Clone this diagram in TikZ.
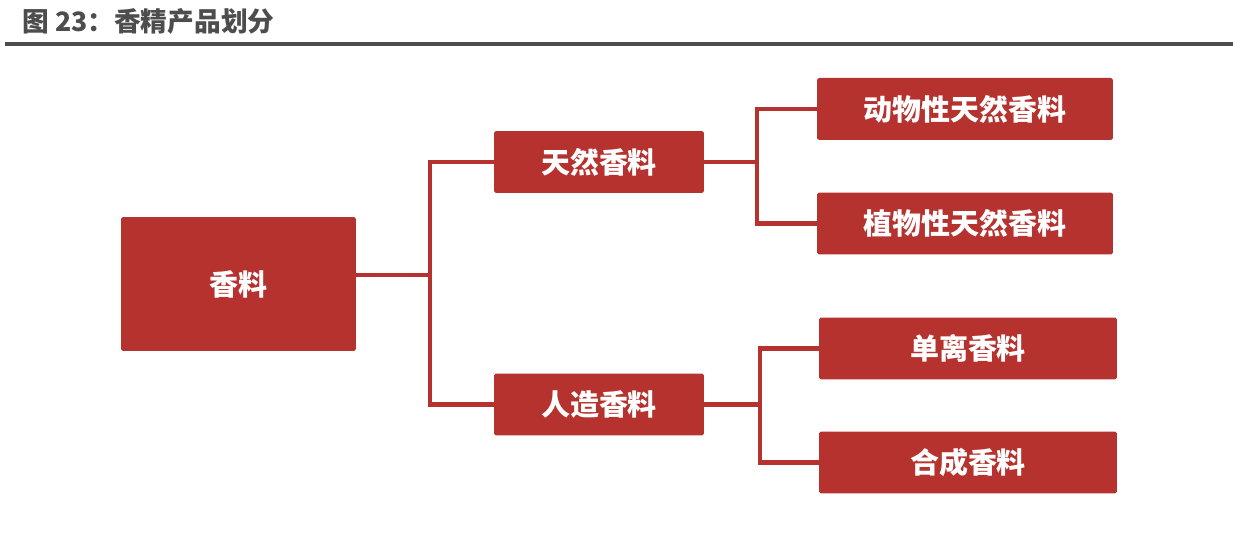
\documentclass[tikz,border=0pt]{standalone}
\usepackage{fontspec}
\setmainfont{Noto Sans CJK SC}
\usetikzlibrary{positioning}
\definecolor{boxred}{HTML}{B5322F}
\definecolor{titlegray}{HTML}{4D4D4D}
\begin{document}
\begin{tikzpicture}[x=0.02cm,y=-0.02cm,
box/.style={fill=boxred,text=white,font=\fontsize{16.5}{18}\selectfont\bfseries,rounded corners=1pt,inner sep=0pt},
link/.style={draw=boxred,line width=2.3pt}]
\useasboundingbox(0,0)rectangle(1241,543);
\node[anchor=west,text=titlegray,font=\fontsize{15.2}{17}\selectfont\bfseries](title)at(16,21){图 23：香精产品划分};
\draw[titlegray,line width=2.2pt](5,44)--(1233,44);
\node[box,minimum width=4.7cm,minimum height=2.68cm](xl)at(238.5,284){香料};
\node[box,minimum width=4.2cm,minimum height=1.24cm](tr)at(599,162){天然香料};
\node[box,minimum width=4.2cm,minimum height=1.24cm](rz)at(599,404.5){人造香料};
\node[box,minimum width=5.92cm,minimum height=1.24cm](dw)at(965,109){动物性天然香料};
\node[box,minimum width=5.92cm,minimum height=1.24cm](zw)at(965,223.5){植物性天然香料};
\node[box,minimum width=5.96cm,minimum height=1.24cm](dl)at(968,348.5){单离香料};
\node[box,minimum width=5.96cm,minimum height=1.24cm](hc)at(968,462.5){合成香料};
\draw[link]([yshift=0.18cm]xl.east)-|(430,275);
\draw[link](tr.west)-|(430,404.5)--(rz.west);
\draw[link](tr.east)--(757,162);
\draw[link](dw.west)-|(757,223.5)--(zw.west);
\draw[link](rz.east)--(760,404.5);
\draw[link](dl.west)-|(760,462.5)--(hc.west);
\end{tikzpicture}
\end{document}
